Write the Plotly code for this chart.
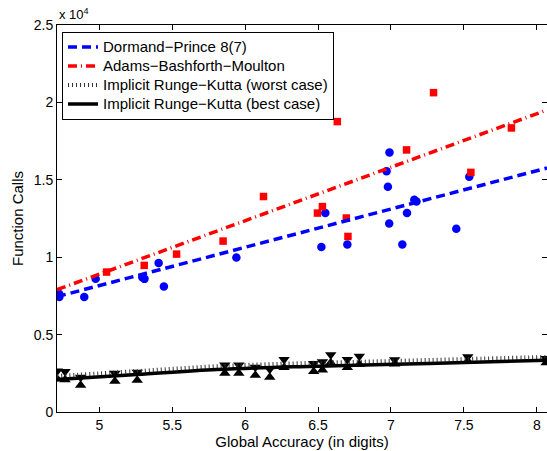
import plotly.graph_objects as go

# ---- data ----
dp_x = [4.726, 4.726, 4.897, 4.975, 5.295, 5.31, 5.407, 5.443, 5.94, 6.523, 6.55,
        6.701, 6.97, 6.979, 6.988, 6.99, 7.078, 7.11, 7.16, 7.175, 7.448, 7.537]
dp_y = [7620, 7430, 7430, 8610, 8700, 8600, 9620, 8110, 9985, 10655, 12850,
        10820, 15560, 14545, 12180, 16760, 10820, 12850, 13710, 13600, 11840, 15190]

abm_x = [5.05, 5.308, 5.53, 5.849, 6.126, 6.496, 6.53, 6.632, 6.694, 6.705,
         7.107, 7.292, 7.548, 7.826]
abm_y = [9040, 9470, 10200, 11040, 13920, 12850, 13270, 18760, 12530, 11340,
         16930, 20630, 15480, 18350]

irk_x = [4.712, 4.765, 4.872, 5.107, 5.26, 5.861, 5.957, 6.07, 6.169, 6.267,
         6.47, 6.53, 6.587, 6.701, 6.783, 7.025, 7.527, 8.064]
irk_worst = [2650, 2610, 2250, 2510, 2570, 3030, 3030, 2890, 2760, 3390,
             3130, 3240, 3700, 3390, 3600, 3380, 3570, 3460]
irk_best = [2130, 2090, 1730, 1990, 2050, 2510, 2510, 2370, 2240, 2870,
            2610, 2720, 3180, 2870, 3080, 3100, 3290, 3180]

# fitted trend lines (values read at the ends / along the curve)
dp_fit_x = [4.71, 8.07]
dp_fit_y = [7450, 15760]
abm_fit_x = [4.71, 8.07]
abm_fit_y = [7900, 19510]
irk_fit_x = [4.71, 5.258, 5.806, 6.374, 6.957, 7.505, 8.07]
irk_best_fit = [2100, 2420, 2740, 2930, 3065, 3200, 3335]
irk_worst_fit = [2320, 2640, 2960, 3150, 3285, 3420, 3555]

x_ticks = [5, 5.5, 6, 6.5, 7, 7.5, 8]
x_ticktext = ["5", "5.5", "6", "6.5", "7", "7.5", "8"]
y_ticks = [0, 5000, 10000, 15000, 20000, 25000]
y_ticktext = ["0", "0.5", "1", "1.5", "2", "2.5"]

names = ["Dormand−Prince 8(7)", "Adams−Bashforth−Moulton",
         "Implicit Runge−Kutta (worst case)", "Implicit Runge−Kutta (best case)"]

BLUE = "#0000ff"
RED = "#ff0000"
BLACK = "#000000"


def big(label):
    return '<span style="font-size:15px">' + label + '</span>'


fig = go.Figure()

# markers
fig.add_trace(go.Scatter(x=dp_x, y=dp_y, mode="markers", showlegend=False,
                         marker=dict(symbol="circle", size=8.5, color=BLUE)))
fig.add_trace(go.Scatter(x=abm_x, y=abm_y, mode="markers", showlegend=False,
                         marker=dict(symbol="square", size=7.5, color=RED)))
fig.add_trace(go.Scatter(x=irk_x, y=irk_worst, mode="markers", showlegend=False,
                         marker=dict(symbol="triangle-down", size=10, color=BLACK)))
fig.add_trace(go.Scatter(x=irk_x, y=irk_best, mode="markers", showlegend=False,
                         marker=dict(symbol="triangle-up", size=10, color=BLACK)))

# fit lines (legend entries)
fig.add_trace(go.Scatter(x=dp_fit_x, y=dp_fit_y, mode="lines", name=big(names[0]),
                         line=dict(color=BLUE, width=3.5, dash="9px,5px")))
fig.add_trace(go.Scatter(x=abm_fit_x, y=abm_fit_y, mode="lines", name=big(names[1]),
                         line=dict(color=RED, width=3.5, dash="9px,4px,1px,4px")))
fig.add_trace(go.Scatter(x=irk_fit_x, y=irk_worst_fit, mode="lines", name=big(names[2]),
                         line=dict(color="#333333", width=4, dash="1px,3px", shape="spline")))
fig.add_trace(go.Scatter(x=irk_fit_x, y=irk_best_fit, mode="lines", name=big(names[3]),
                         line=dict(color=BLACK, width=3.5, shape="spline")))

# invisible trace on the right axis to get mirrored ticks without a spine
fig.add_trace(go.Scatter(x=[None], y=[None], yaxis="y2", showlegend=False, hoverinfo="skip"))

FONT = "Liberation Sans, Arial, Helvetica, sans-serif"

fig.update_layout(
    width=547, height=451,
    margin=dict(l=57, r=0, t=25, b=39),
    paper_bgcolor="white", plot_bgcolor="white",
    font=dict(family=FONT, size=14, color="black"),
    showlegend=True,
    legend=dict(x=0.0102, y=0.983, xanchor="left", yanchor="top",
                bgcolor="white", bordercolor="black", borderwidth=1,
                font=dict(family=FONT, size=12, color="black"),
                tracegroupgap=0),
    xaxis=dict(range=[4.71, 8.07], tickvals=x_ticks, ticktext=x_ticktext,
               ticks="inside", ticklen=5, tickcolor="black",
               showline=True, linecolor="black", linewidth=1, mirror="ticks",
               showgrid=False, zeroline=False,
               title=dict(text="Global Accuracy (in digits)", font=dict(size=15), standoff=0),
               tickfont=dict(size=14)),
    yaxis=dict(range=[0, 25000], tickvals=y_ticks, ticktext=y_ticktext,
               ticks="inside", ticklen=5, tickcolor="black",
               showline=True, linecolor="black", linewidth=1, mirror=False,
               showgrid=False, zeroline=False,
               title=dict(text="Function Calls", font=dict(size=15), standoff=6),
               tickfont=dict(size=14)),
    yaxis2=dict(range=[0, 25000], tickvals=y_ticks, overlaying="y", side="right",
                ticks="inside", ticklen=5, tickcolor="black", showticklabels=False,
                showline=False, showgrid=False, zeroline=False),
)

fig.add_annotation(xref="paper", yref="paper", x=0, y=1, xanchor="left", yanchor="bottom",
                   text="x 10<sup>4</sup>", showarrow=False,
                   font=dict(family=FONT, size=13, color="black"), yshift=1)

fig.write_html("out.html")
